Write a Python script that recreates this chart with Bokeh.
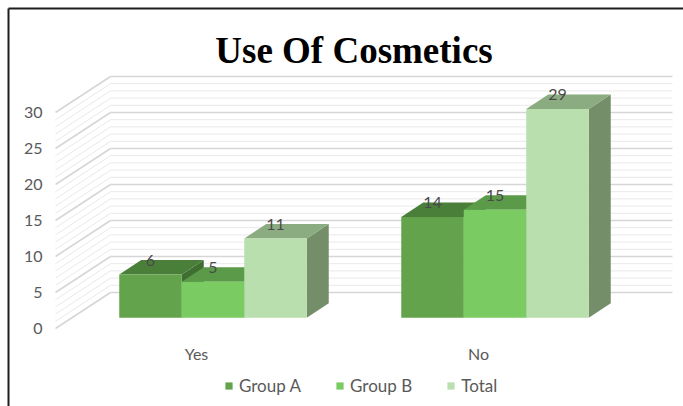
from bokeh.plotting import figure
from bokeh.models import (Range1d, LinearAxis, FixedTicker, Legend, LegendItem)
from bokeh.core.properties import value
from bokeh.embed import file_html
from bokeh.resources import INLINE

# ---------------- data ----------------
categories = ["Yes", "No"]
group_a = [6, 14]
group_b = [5, 15]
total = [11, 29]
series_names = ["Group A", "Group B", "Total"]
y_ticks = [0, 5, 10, 15, 20, 25, 30]
title_text = "Use Of Cosmetics"

# ---------------- layout / style ----------------
W, H = 683, 406
PXU = 7.2            # pixels per value unit
FLOOR_PX = 328       # screen y of front floor
WALL_X0 = 55         # front-left x of side wall
WALL_DX = 55         # horizontal depth shift (px)
WALL_DY = 5          # vertical depth shift (value units)
BACK_RIGHT = 672
CAT_X0 = 196
CAT_STEP = 282
BAR_W = 62.5
D0, D1 = 0.3, 0.7    # bar depth span (fraction of wall depth)

front_cols = ["#62a34c", "#7acb62", "#b8dfad"]
top_cols = ["#4a7f39", "#5a9a48", "#8aac80"]
side_cols = ["#3f6f30", "#4f8a3f", "#748e6a"]
text_col = "#595959"
FONT = "Lato"


def vy(px):
    return (FLOOR_PX - px) / PXU


p = figure(width=W, height=H, output_backend="svg", toolbar_location=None,
           x_range=Range1d(0, W), y_range=Range1d(vy(H), vy(0)),
           x_axis_location=None, y_axis_location=None,
           min_border_left=0, min_border_right=0, min_border_top=0, min_border_bottom=0)
p.outline_line_color = None
p.xgrid.visible = False
p.ygrid.visible = False
p.background_fill_color = "white"
p.border_fill_color = "white"

# ---------------- 3D walls ----------------
top_val = max(y_ticks)
minor_v = [v for v in range(0, top_val + 1) if v % 5 != 0]
major_v = [v for v in range(0, top_val + 1) if v % 5 == 0]
for vals, col, lw in ((minor_v, "#e9e9e9", 1), (major_v, "#d6d6d6", 1.6)):
    p.segment(x0=[WALL_X0] * len(vals), y0=vals,
              x1=[WALL_X0 + WALL_DX] * len(vals), y1=[v + WALL_DY for v in vals],
              line_color=col, line_width=lw)
    p.segment(x0=[WALL_X0 + WALL_DX] * len(vals), y0=[v + WALL_DY for v in vals],
              x1=[BACK_RIGHT] * len(vals), y1=[v + WALL_DY for v in vals],
              line_color=col, line_width=lw)

# ---------------- bars ----------------
series = [group_a, group_b, total]
ddx = (D1 - D0) * WALL_DX
ddy = (D1 - D0) * WALL_DY
base = D0 * WALL_DY
front_renderers = []
for j, vals in enumerate(series):
    lefts, rights, tops = [], [], []
    for i, v in enumerate(vals):
        xc = CAT_X0 + i * CAT_STEP
        L = xc - 1.5 * BAR_W + j * BAR_W + D0 * WALL_DX
        lefts.append(L)
        rights.append(L + BAR_W)
        tops.append(v + base)
    side_xs = [[r, r + ddx, r + ddx, r] for r in rights]
    side_ys = [[base, base + ddy, t + ddy, t] for t in tops]
    top_xs = [[l, r, r + ddx, l + ddx] for l, r in zip(lefts, rights)]
    top_ys = [[t, t, t + ddy, t + ddy] for t in tops]
    p.patches(side_xs, side_ys, fill_color=side_cols[j], line_color=None)
    p.patches(top_xs, top_ys, fill_color=top_cols[j], line_color=None)
    r = p.quad(left=lefts, right=rights, bottom=[base] * len(vals), top=tops,
               fill_color=front_cols[j], line_color=None)
    front_renderers.append(r)
    p.text(x=[(l + rr) / 2 for l, rr in zip(lefts, rights)],
           y=[t + ddy for t in tops], text=[str(v) for v in vals],
           text_align="center", text_baseline="alphabetic",
           text_font=value(FONT), text_font_size="16px", text_color="#4a4a4a")

# ---------------- axes ----------------
yax = LinearAxis(fixed_location=50, ticker=FixedTicker(ticks=y_ticks))
yax.axis_line_color = None
yax.major_tick_line_color = None
yax.minor_tick_line_color = None
yax.major_tick_out = 0
yax.major_label_standoff = 8
yax.major_label_text_font = FONT
yax.major_label_text_font_size = "16px"
yax.major_label_text_color = text_col
p.add_layout(yax, "left")

cat_pos = [CAT_X0 + i * CAT_STEP for i in range(len(categories))]
xax = LinearAxis(fixed_location=vy(337), ticker=FixedTicker(ticks=cat_pos),
                 major_label_overrides={pos: c for pos, c in zip(cat_pos, categories)})
xax.axis_line_color = None
xax.major_tick_line_color = None
xax.minor_tick_line_color = None
xax.major_tick_out = 0
xax.major_label_standoff = 6
xax.major_label_text_font = FONT
xax.major_label_text_font_size = "16px"
xax.major_label_text_color = text_col
p.add_layout(xax, "below")

# ---------------- title ----------------
p.text(x=[353.5], y=[vy(50)], text=[title_text], text_align="center",
       text_baseline="alphabetic", text_font=value("Liberation Serif"),
       text_font_style="bold", text_font_size="37px", text_color="black")

# ---------------- border ----------------
p.segment(x0=[8, 8], y0=[vy(8), vy(8)], x1=[W, 8], y1=[vy(8), vy(H)],
          line_color="#1e1e1e", line_width=2)

# ---------------- legend ----------------
legend = Legend(items=[LegendItem(label=n, renderers=[r])
                       for n, r in zip(series_names, front_renderers)],
                orientation="horizontal", location=(224, 10),
                glyph_width=9, glyph_height=9, label_standoff=6, spacing=34,
                padding=0, margin=0, border_line_color=None,
                background_fill_alpha=0,
                label_text_font=FONT, label_text_font_size="17px",
                label_text_color=text_col)
p.add_layout(legend)

open("out.html", "w").write(file_html(p, INLINE))
